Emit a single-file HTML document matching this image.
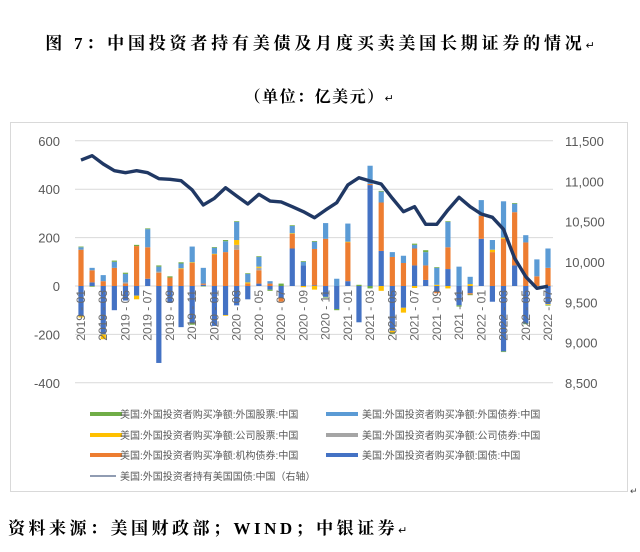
<!DOCTYPE html>
<html><head><meta charset="utf-8">
<style>
body{margin:0;width:640px;height:552px;background:#fff;overflow:hidden;font-family:"Liberation Serif","Noto Serif CJK SC",serif;}
.t{position:absolute;font-weight:bold;color:#000;white-space:nowrap;}
</style></head><body>
<div class="t" style="left:0;width:640px;text-align:center;top:29px;font-size:17px;letter-spacing:3.8px;">图 7：中国投资者持有美债及月度买卖美国长期证券的情况<span style="font-weight:normal;font-size:11px;letter-spacing:0">↵</span></div>
<div class="t" style="left:0;width:640px;text-align:center;top:84px;font-size:16px;letter-spacing:1.5px;">（单位：亿美元）<span style="font-weight:normal;font-size:11px">↵</span></div>
<div class="t" style="left:8px;top:514px;font-size:17px;letter-spacing:3.5px;">资料来源：美国财政部；WIND；中银证券<span style="font-weight:normal;font-size:11px;letter-spacing:0">↵</span></div>
<svg id="c" width="640" height="552" style="position:absolute;left:0;top:0" font-family='"Liberation Sans","Noto Sans CJK SC",sans-serif'>
<rect x="10.5" y="122.5" width="617" height="369" fill="none" stroke="#d9d9d9"/>
<text x="630" y="494" font-size="9" fill="#444">↵</text>
</svg>
<script>
const months=[];for(let y=2019;y<=2022;y++)for(let m=1;m<=12;m++){if(y===2022&&m>7)break;months.push(y+' - '+String(m).padStart(2,'0'));}
const treasury=[-125,15,-200,-100,-60,-40,30,-318,-70,-170,-155,5,-165,-120,-80,-55,10,-15,-50,155,85,3,-45,-95,20,-150,417,145,-185,-90,85,25,-25,70,-80,-30,195,-65,-270,85,-155,0,-75];
const agency=[150,50,20,75,10,165,130,55,35,70,95,5,130,140,150,10,55,10,-15,60,0,150,195,0,160,0,5,200,120,95,70,60,-5,90,0,-5,95,140,195,220,180,40,75];
const corpBond=[0,0,0,0,5,0,0,5,0,0,0,0,0,0,20,0,10,0,0,0,0,0,0,0,0,0,0,0,0,0,0,0,0,0,0,0,0,0,0,0,0,0,0];
const corpStock=[-5,0,-20,0,0,-15,0,0,0,3,3,0,3,-3,20,5,5,0,0,3,-5,-15,0,0,3,0,0,-20,-10,-20,-8,0,5,-10,0,8,0,10,5,0,0,0,-3];
const foreignBond=[10,10,25,25,35,0,75,20,0,20,65,65,25,45,75,35,40,10,0,30,15,30,65,30,75,0,75,45,20,30,15,55,70,105,80,30,65,40,150,35,30,70,80];
const stocks=[3,-3,0,5,5,5,3,5,5,5,-5,-2,3,5,3,3,3,-5,10,3,3,3,-3,-5,0,5,-10,3,-3,0,5,8,3,3,-5,-3,0,0,-3,3,-3,0,-3];
const holdings=[11264,11318,11215,11132,11107,11132,11107,11033,11025,11008,10893,10707,10790,10921,10818,10719,10839,10756,10744,10686,10624,10548,10645,10735,10955,11045,11004,10967,10790,10624,10686,10467,10467,10645,10802,10686,10595,10554,10405,10046,9818,9674,9700];
const leftTicks=[600,400,200,0,-200,-400];
const rightTicks=[11500,11000,10500,10000,9500,9000,8500];
const svg=document.getElementById('c');const NS='http://www.w3.org/2000/svg';
function mk(t,a,p){const e=document.createElementNS(NS,t);for(const k in a)e.setAttribute(k,a[k]);(p||svg).appendChild(e);return e;}
const yL=v=>286-v*0.242;
const yR=v=>141+(11500-v)*(242/3000);
const xC=i=>81+i*(467/42);
leftTicks.forEach(v=>{
 const g=mk('line',{x1:75,x2:553,y1:yL(v),y2:yL(v),stroke:'#d9d9d9','stroke-width':1});
 
 const t=mk('text',{x:60,y:yL(v)+5,'text-anchor':'end','font-size':13,fill:'#595959'});t.textContent=v;
 
});
rightTicks.forEach(v=>{
 const t=mk('text',{x:565,y:yR(v)+5,'font-size':13,fill:'#595959'});t.textContent=v.toLocaleString('en-US');
 
});
const series=[[treasury,'#4472c4'],[agency,'#ed7d31'],[corpBond,'#a5a5a5'],[corpStock,'#ffc000'],[foreignBond,'#5b9bd5'],[stocks,'#70ad47']];
months.forEach((m,i)=>{
 let pos=0,neg=0;
 series.forEach(([arr,col])=>{
  const v=arr[i];if(!v)return;
  let y0,y1;
  if(v>0){y0=yL(pos+v);y1=yL(pos);pos+=v;}else{y0=yL(neg);y1=yL(neg+v);neg+=v;}
  const r=mk('rect',{x:xC(i)-2.6,y:y0,width:5.2,height:Math.max(y1-y0,0.5),fill:col});
  
 });
 if(i%2===0){
  const t=mk('text',{x:0,y:0,'font-size':12,fill:'#6a6a6a','text-anchor':'end',transform:`translate(${xC(i)+4},290) rotate(-90)`});
  t.textContent=m;
 }
});
const p=mk('polyline',{points:holdings.map((v,i)=>xC(i)+','+yR(v)).join(' '),fill:'none',stroke:'#203864','stroke-width':3.4,'stroke-linejoin':'round'});

const legend=[['美国:外国投资者购买净额:外国股票:中国','#70ad47',90,414],['美国:外国投资者购买净额:外国债券:中国','#5b9bd5',326,414],['美国:外国投资者购买净额:公司股票:中国','#ffc000',90,435],['美国:外国投资者购买净额:公司债券:中国','#a5a5a5',326,435],['美国:外国投资者购买净额:机构债券:中国','#ed7d31',90,455],['美国:外国投资者购买净额:国债:中国','#4472c4',326,455],['美国:外国投资者持有美国国债:中国（右轴）','#203864',90,476]];
legend.forEach(([txt,col,x,y],k)=>{
 const g=mk('g',{});
 mk('line',{x1:x,x2:k===6?x+26:x+32,y1:y,y2:y,stroke:col,'stroke-width':k===6?1:4},g);
 const t=mk('text',{x:k%2===1?x+36:x+30,y:y+4,'font-size':10,fill:'#595959'},g);t.textContent=txt;
});
</script>
</body></html>
